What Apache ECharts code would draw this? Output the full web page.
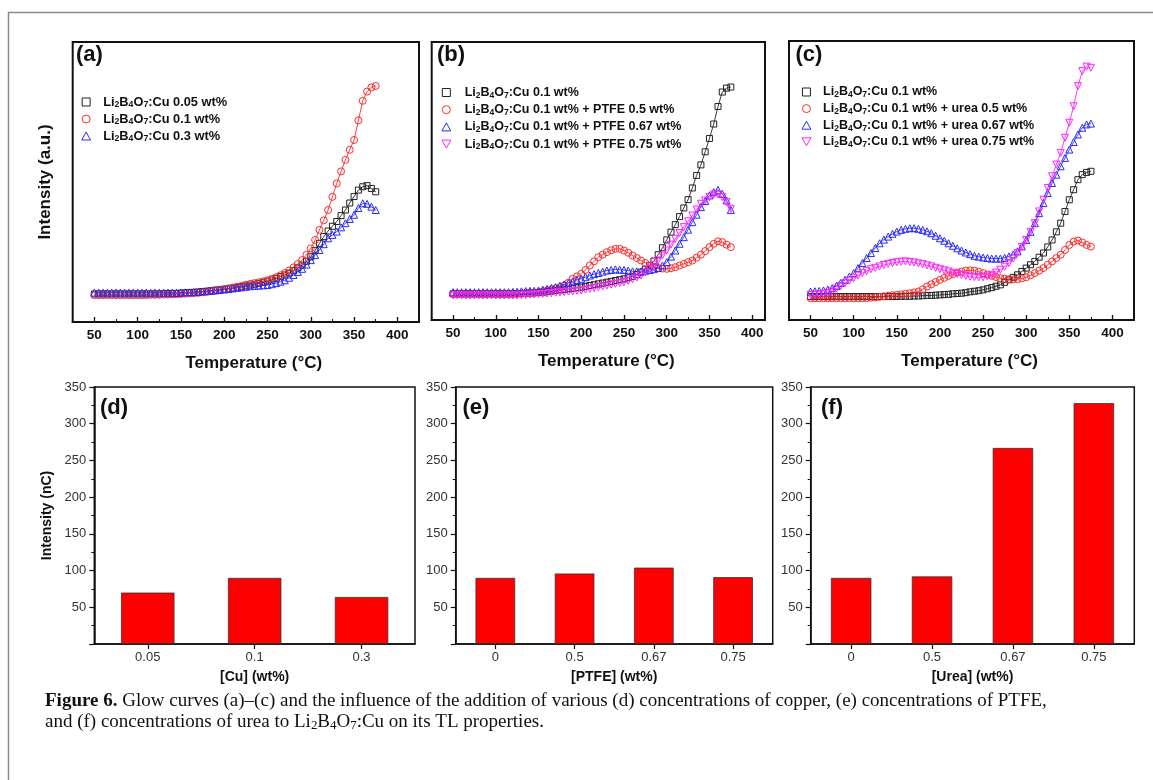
<!DOCTYPE html>
<html>
<head>
<meta charset="utf-8">
<script src="https://cdn.jsdelivr.net/npm/echarts@6/dist/echarts.min.js"></script>
<style>
  html, body { margin: 0; padding: 0; background: #fff; }
  #chart { width: 1153px; height: 780px; }
</style>
</head>
<body>
<div id="chart"></div>
<script>
// Heating temperature (°C) for every glow-curve reading
const temps = [50,55,60,65,70,75,80,85,90,95,100,105,110,115,120,125,130,135,140,145,
  150,155,160,165,170,175,180,185,190,195,200,205,210,215,220,225,230,235,240,245,
  250,255,260,265,270,275,280,285,290,295,300,305,310,315,320,325,330,335,340,345,
  350,355,360,365,370,375];

// (a) Cu concentration glow curves, TL intensity (a.u.)
const cu005 = [10.0,10.0,10.0,10.0,10.0,10.0,10.0,10.0,10.0,10.0,10.0,10.0,10.0,10.0,10.0,10.0,10.1,10.1,10.2,10.2,
  10.3,10.4,10.5,10.6,10.7,10.9,11.0,11.2,11.4,11.5,11.7,11.9,12.1,12.4,12.6,12.9,13.2,13.5,13.8,14.2,
  14.6,15.0,15.6,16.2,16.8,17.5,18.3,19.3,20.3,21.7,23.3,25.5,28.1,30.5,32.5,34.2,35.9,38.0,40.0,42.5,
  44.8,47.1,48.3,48.7,47.7,46.5];
const cu01 = [9.6,9.6,9.6,9.6,9.6,9.6,9.6,9.6,9.6,9.6,9.6,9.6,9.6,9.7,9.7,9.7,9.8,9.8,9.9,9.9,
  10.0,10.1,10.2,10.3,10.4,10.6,10.8,11.0,11.2,11.4,11.7,12.0,12.3,12.6,12.9,13.3,13.6,13.9,14.2,14.5,
  14.9,15.4,16.0,16.7,17.5,18.4,19.5,20.7,22.1,24.0,26.3,29.3,32.9,36.3,40.0,44.7,49.5,53.8,57.9,61.5,
  65.0,72.0,79.0,82.3,83.8,84.3];
const cu03 = [10.5,10.5,10.5,10.5,10.5,10.5,10.5,10.5,10.5,10.5,10.5,10.5,10.5,10.5,10.5,10.5,10.5,10.5,10.5,10.5,
  10.5,10.6,10.6,10.7,10.8,10.9,11.0,11.2,11.3,11.5,11.6,11.8,12.0,12.2,12.4,12.6,12.8,12.9,13.0,13.1,
  13.2,13.5,13.9,14.4,14.9,15.8,16.8,17.9,19.0,20.5,22.1,23.9,25.7,27.8,29.9,31.1,32.3,33.8,35.3,36.8,
  38.3,40.7,42.4,42.2,41.2,40.0];

// (b) PTFE additions to Li2B4O7:Cu 0.1 wt%
const ptfeBase = [9.4,9.4,9.4,9.4,9.4,9.4,9.4,9.4,9.4,9.4,9.4,9.4,9.4,9.4,9.4,9.5,9.5,9.6,9.7,9.8,
  9.9,10.0,10.2,10.4,10.6,10.8,11.0,11.2,11.4,11.6,11.8,12.1,12.4,12.7,13.0,13.3,13.6,13.9,14.2,14.5,
  14.8,15.2,15.7,16.3,17.2,18.3,19.6,21.2,23.5,26.0,28.8,31.6,34.3,37.2,40.3,43.3,47.5,52.0,55.8,60.5,
  65.3,70.5,76.8,82.0,83.4,83.8];
const ptfe05 = [9.4,9.4,9.4,9.4,9.4,9.4,9.4,9.4,9.4,9.4,9.4,9.4,9.4,9.4,9.4,9.4,9.5,9.6,9.7,9.8,
  10.0,10.3,10.6,11.0,11.4,11.8,12.4,13.4,14.8,15.7,16.6,18.0,19.6,21.1,22.6,23.5,24.4,25.1,25.6,25.6,
  25.0,24.2,23.2,22.3,21.4,20.5,19.6,19.1,18.7,18.5,18.4,18.6,19.0,19.6,20.2,20.8,21.4,22.4,23.5,24.8,
  26.2,27.4,28.3,28.0,27.1,26.2];
const ptfe067 = [10.0,10.0,10.0,10.0,10.0,10.0,10.0,10.0,10.0,10.0,10.0,10.0,10.0,10.0,10.1,10.2,10.3,10.4,10.5,10.5,
  10.6,10.9,11.2,11.5,11.8,12.3,12.8,13.3,13.9,14.4,14.8,15.4,16.0,16.5,16.9,17.4,17.8,18.0,18.2,18.1,
  18.0,17.8,17.5,17.5,17.5,17.7,18.0,18.3,18.7,19.6,20.8,22.8,25.0,27.4,29.8,32.5,35.2,37.9,40.6,42.8,
  44.8,46.0,46.8,45.4,43.0,39.6];
const ptfe075 = [8.8,8.8,8.8,8.8,8.8,8.8,8.8,8.8,8.8,8.8,8.8,8.8,8.8,8.8,8.8,8.8,8.9,9.0,9.1,9.2,
  9.3,9.4,9.5,9.6,9.8,9.9,10.0,10.2,10.3,10.5,10.6,10.9,11.2,11.5,11.8,12.1,12.4,12.7,13.0,13.3,
  13.6,14.1,14.7,15.3,16.0,17.1,18.4,19.9,21.4,23.2,25.0,27.1,29.2,31.3,33.4,35.5,37.6,39.7,41.8,43.0,
  44.2,45.1,45.1,44.2,42.4,40.0];

// (c) urea additions to Li2B4O7:Cu 0.1 wt%
const ureaBase = [8.4,8.4,8.4,8.4,8.4,8.4,8.4,8.4,8.4,8.4,8.4,8.4,8.4,8.4,8.4,8.4,8.4,8.4,8.4,8.4,
  8.4,8.5,8.5,8.5,8.6,8.6,8.7,8.8,8.8,8.9,9.0,9.1,9.2,9.4,9.5,9.6,9.8,10.1,10.3,10.5,
  10.8,11.2,11.6,12.1,12.6,13.5,14.4,15.3,16.2,17.4,18.6,19.8,21.0,22.5,24.0,26.2,28.7,31.6,34.7,38.9,
  43.1,46.7,50.3,52.1,52.9,53.3];
const urea05 = [7.8,7.8,7.8,7.8,7.8,7.8,7.8,7.8,7.8,7.8,7.8,7.8,7.8,7.8,8.0,8.1,8.3,8.5,8.7,8.9,
  9.0,9.2,9.4,9.6,9.9,10.2,11.0,12.0,12.8,13.6,14.4,15.1,15.8,16.4,17.0,17.4,17.7,17.8,17.7,17.3,
  16.8,16.3,15.8,15.4,15.0,14.8,14.6,14.6,14.6,14.9,15.3,16.0,16.8,17.7,18.6,19.8,21.0,22.2,23.4,25.1,
  26.9,28.1,28.5,27.8,26.9,26.3];
const urea067 = [10.2,10.3,10.4,10.6,10.9,11.4,12.2,13.3,14.4,15.6,16.8,18.6,20.4,22.2,24.0,25.8,27.5,28.8,29.9,30.9,
  31.7,32.3,32.7,32.9,32.9,32.7,32.3,31.8,31.1,30.2,29.3,28.4,27.5,26.6,25.7,24.9,24.2,23.6,23.0,22.7,
  22.4,22.2,22.0,22.0,22.0,22.3,22.8,23.5,24.6,26.4,28.7,31.6,34.7,38.3,41.9,45.5,49.1,52.1,55.1,58.1,
  61.1,63.8,66.5,68.9,70.1,70.4];
const urea075 = [9.0,9.1,9.2,9.4,9.6,10.2,11.2,12.2,13.2,14.1,15.0,15.9,16.8,17.5,18.2,18.7,19.2,19.7,20.1,20.4,
  20.7,20.9,21.0,20.8,20.6,20.3,20.0,19.6,19.2,18.7,18.2,17.8,17.4,16.9,16.5,16.1,15.8,15.5,15.3,15.3,
  15.3,15.6,16.2,17.0,18.0,19.1,20.4,22.0,24.0,26.2,28.7,31.6,34.7,38.9,43.1,47.3,51.5,55.7,59.9,65.3,
  70.7,76.6,83.8,89.2,90.8,90.4];

// Integrated TL intensity (nC)
const cuLevels = ['0.05', '0.1', '0.3'];
const cuCharge = [70, 90, 64];
const ptfeLevels = ['0', '0.5', '0.67', '0.75'];
const ptfeCharge = [90, 96, 104, 91];
const ureaLevels = ['0', '0.5', '0.67', '0.75'];
const ureaCharge = [90, 92, 267, 328];

// Axis tick values
const majorTicks = [50, 100, 150, 200, 250, 300, 350, 400];
const minorTicks = [75, 125, 175, 225, 275, 325, 375];

const SANS = '"Liberation Sans", Arial, sans-serif';
const SERIF = '"Liberation Serif", "Times New Roman", serif';
const BLACK = '#222222', RED = '#ff2a2a', BLUE = '#2a2aff', MAGENTA = '#ff22ff';
const SQUARE = 'path://M0,0L10,0L10,10L0,10Z';
const UP_TRI = 'path://M5,0L10,9L0,9Z';
const DOWN_TRI = 'path://M0,0L10,0L5,9Z';

const marks = {
  square: { symbol: 'rect', size: 6, icon: SQUARE },
  circle: { symbol: 'circle', size: 7, icon: 'circle' },
  up: { symbol: 'triangle', size: 7, icon: UP_TRI },
  down: { symbol: DOWN_TRI, size: 7, icon: DOWN_TRI }
};

function curve(name, values, color, mark, xIdx, yIdx) {
  return {
    type: 'line', name: name, xAxisIndex: xIdx, yAxisIndex: yIdx,
    data: values.map((v, i) => [temps[i], v]),
    symbol: marks[mark].symbol, symbolSize: marks[mark].size, showAllSymbol: true,
    itemStyle: { color: 'rgba(0,0,0,0)', borderColor: color, borderWidth: 1 },
    lineStyle: { color: color, width: 0.9 },
    emphasis: { disabled: true }, z: 3
  };
}

function legendItem(name, color, mark) {
  return { name: name, icon: marks[mark].icon,
    itemStyle: { color: 'rgba(0,0,0,0)', borderColor: color, borderWidth: 1 } };
}

function makeRich(size) {
  return {
    t: { fontFamily: SANS, fontWeight: 'bold', fontSize: size, color: '#111', lineHeight: 15 },
    s: { fontFamily: SANS, fontWeight: 'bold', fontSize: size * 0.68, color: '#111', lineHeight: 9, verticalAlign: 'bottom' }
  };
}
function chem(name) {
  return name.replace('Li2B4O7', '{t|Li}{s|2}{t|B}{s|4}{t|O}{s|7}{t|') + '}';
}

function legendBox(items, left, top, width, gap, size) {
  return {
    orient: 'vertical', left: left, top: top, padding: 0,
    itemWidth: width, itemHeight: 8, itemGap: gap, symbolKeepAspect: true,
    selectedMode: false, data: items,
    formatter: chem,
    textStyle: { fontFamily: SANS, fontWeight: 'bold', fontSize: size, color: '#111', lineHeight: 15, rich: makeRich(size) }
  };
}

function tempAxes(grid, max) {
  const common = { type: 'value', gridIndex: grid, min: 25, max: max, position: 'bottom',
    splitLine: { show: false } };
  return [
    Object.assign({}, common, {
      axisLine: { show: true, lineStyle: { color: '#111', width: 2 } },
      axisTick: { show: true, inside: true, length: 5, customValues: majorTicks, lineStyle: { color: '#111', width: 1.3 } },
      axisLabel: { show: true, customValues: majorTicks, margin: 6, fontFamily: SANS, fontWeight: 'bold', fontSize: 13.5, color: '#111' },
      name: 'Temperature (°C)', nameLocation: 'middle', nameGap: 33,
      nameTextStyle: { fontFamily: SANS, fontWeight: 'bold', fontSize: 17, color: '#111', padding: [0, 0, 0, 16] }
    }),
    Object.assign({}, common, {
      axisLine: { show: false },
      axisTick: { show: true, inside: true, length: 3, customValues: minorTicks, lineStyle: { color: '#111', width: 1 } },
      axisLabel: { show: false }
    })
  ];
}

function intensityAxis(grid, name) {
  return {
    type: 'value', gridIndex: grid, min: 0, max: 100,
    axisLine: { show: false }, axisTick: { show: false }, axisLabel: { show: false }, splitLine: { show: false },
    name: name, nameLocation: 'middle', nameGap: 19, nameRotate: 90,
    nameTextStyle: { fontFamily: SANS, fontWeight: 'bold', fontSize: 17, color: '#111' }
  };
}

function levelAxis(grid, levels, name) {
  return {
    type: 'category', gridIndex: grid, data: levels, position: 'bottom',
    axisLine: { show: true, lineStyle: { color: '#111', width: 1.5 } },
    axisTick: { show: true, alignWithLabel: true, inside: false, length: 5, lineStyle: { color: '#111', width: 1.2 } },
    axisLabel: { margin: 7, fontFamily: SANS, fontSize: 13, color: '#333' },
    name: name, nameLocation: 'middle', nameGap: 26,
    nameTextStyle: { fontFamily: SANS, fontWeight: 'bold', fontSize: 14, color: '#111' },
    splitLine: { show: false }
  };
}

function chargeAxis(grid, name) {
  return {
    type: 'value', gridIndex: grid, min: 0, max: 350, interval: 50,
    axisLine: { show: true, lineStyle: { color: '#111', width: 1.5 } },
    axisTick: { show: true, inside: false, length: 5, lineStyle: { color: '#111', width: 1.2 } },
    minorTick: { show: true, splitNumber: 2, length: 3, lineStyle: { color: '#111', width: 1 } },
    axisLabel: { margin: 8, fontFamily: SANS, fontSize: 13, color: '#333',
      formatter: v => (v === 0 ? '' : String(v)) },
    splitLine: { show: false }, minorSplitLine: { show: false },
    name: name, nameLocation: 'middle', nameGap: 40, nameRotate: 90,
    nameTextStyle: { fontFamily: SANS, fontWeight: 'bold', fontSize: 14, color: '#111' }
  };
}

function bars(values, xIdx, yIdx) {
  return {
    type: 'bar', xAxisIndex: xIdx, yAxisIndex: yIdx, data: values, barWidth: '50%',
    itemStyle: { color: '#ff0000', borderColor: '#333', borderWidth: 0.8 },
    emphasis: { disabled: true }
  };
}

function panelTag(text, x, y) {
  return { type: 'text', x: x, y: y, z: 10,
    style: { text: text, fontFamily: SANS, fontWeight: 'bold', fontSize: 22, fill: '#111', verticalAlign: 'middle' } };
}

const gridBase = { show: true, containLabel: false, outerBoundsMode: 'none', backgroundColor: 'transparent' };
const grids = [
  Object.assign({ left: 72.7, top: 42, width: 346.3, height: 280, borderColor: '#111', borderWidth: 2 }, gridBase),
  Object.assign({ left: 431.7, top: 42, width: 333.3, height: 278, borderColor: '#111', borderWidth: 2 }, gridBase),
  Object.assign({ left: 789, top: 41, width: 345, height: 279, borderColor: '#111', borderWidth: 2 }, gridBase),
  Object.assign({ left: 94.3, top: 387, width: 320.7, height: 257, borderColor: '#111', borderWidth: 1.5 }, gridBase),
  Object.assign({ left: 455.7, top: 387, width: 317, height: 257, borderColor: '#111', borderWidth: 1.5 }, gridBase),
  Object.assign({ left: 810.7, top: 387, width: 323.6, height: 257, borderColor: '#111', borderWidth: 1.5 }, gridBase)
];

const xAxes = [].concat(
  tempAxes(0, 425), tempAxes(1, 415), tempAxes(2, 425),
  [levelAxis(3, cuLevels, '[Cu] (wt%)'), levelAxis(4, ptfeLevels, '[PTFE] (wt%)'), levelAxis(5, ureaLevels, '[Urea] (wt%)')]
);
const yAxes = [
  intensityAxis(0, 'Intensity (a.u.)'), intensityAxis(1, ''), intensityAxis(2, ''),
  chargeAxis(3, 'Intensity (nC)'), chargeAxis(4, ''), chargeAxis(5, '')
];

const N = {
  a1: 'Li2B4O7:Cu 0.05 wt%', a2: 'Li2B4O7:Cu 0.1 wt%', a3: 'Li2B4O7:Cu 0.3 wt%',
  b0: 'Li2B4O7:Cu 0.1 wt%', b1: 'Li2B4O7:Cu 0.1 wt% + PTFE 0.5 wt%',
  b2: 'Li2B4O7:Cu 0.1 wt% + PTFE 0.67 wt%', b3: 'Li2B4O7:Cu 0.1 wt% + PTFE 0.75 wt%',
  c1: 'Li2B4O7:Cu 0.1 wt% + urea 0.5 wt%', c2: 'Li2B4O7:Cu 0.1 wt% + urea 0.67 wt%',
  c3: 'Li2B4O7:Cu 0.1 wt% + urea 0.75 wt%'
};

const series = [
  curve(N.a1, cu005, BLACK, 'square', 0, 0),
  curve(N.a2, cu01, RED, 'circle', 0, 0),
  curve(N.a3, cu03, BLUE, 'up', 0, 0),
  curve(N.b0, ptfeBase, BLACK, 'square', 2, 1),
  curve(N.b1, ptfe05, RED, 'circle', 2, 1),
  curve(N.b2, ptfe067, BLUE, 'up', 2, 1),
  curve(N.b3, ptfe075, MAGENTA, 'down', 2, 1),
  curve(N.b0, ureaBase, BLACK, 'square', 4, 2),
  curve(N.c1, urea05, RED, 'circle', 4, 2),
  curve(N.c2, urea067, BLUE, 'up', 4, 2),
  curve(N.c3, urea075, MAGENTA, 'down', 4, 2),
  bars(cuCharge, 6, 3),
  bars(ptfeCharge, 7, 4),
  bars(ureaCharge, 8, 5)
];

const legends = [
  legendBox([legendItem(N.a1, BLACK, 'square'), legendItem(N.a2, RED, 'circle'), legendItem(N.a3, BLUE, 'up')],
    81.2, 94.5, 24, 2, 12.8),
  legendBox([legendItem(N.b0, BLACK, 'square'), legendItem(N.b1, RED, 'circle'),
    legendItem(N.b2, BLUE, 'up'), legendItem(N.b3, MAGENTA, 'down')], 441.4, 85, 26.6, 2.2, 12.5),
  legendBox([legendItem(N.b0, BLACK, 'square'), legendItem(N.c1, RED, 'circle'),
    legendItem(N.c2, BLUE, 'up'), legendItem(N.c3, MAGENTA, 'down')], 801.5, 84.5, 23.2, 1.6, 12.5)
];

const CAP = 19;
const capRich = {
  b: { fontFamily: SERIF, fontWeight: 'bold', fontSize: CAP, fill: '#111' },
  n: { fontFamily: SERIF, fontSize: CAP, fill: '#111' },
  s: { fontFamily: SERIF, fontSize: CAP * 0.68, fill: '#111', verticalAlign: 'bottom', lineHeight: 12 }
};

const graphics = [
  { type: 'polyline', z: 0, shape: { points: [[8.5, 780], [8.5, 12.5], [1153, 12.5]] },
    style: { stroke: '#8a8a8a', lineWidth: 1.5, fill: null } },
  panelTag('(a)', 76, 55), panelTag('(b)', 437, 55), panelTag('(c)', 795.5, 55),
  panelTag('(d)', 100, 408), panelTag('(e)', 462.5, 408), panelTag('(f)', 821, 408),
  { type: 'text', x: 45, y: 701, z: 10,
    style: { text: '{b|Figure 6.}{n| Glow curves (a)–(c) and the influence of the addition of various (d) concentrations of copper, (e) concentrations of PTFE,}',
      rich: capRich, fontFamily: SERIF, fontSize: CAP, fill: '#111', verticalAlign: 'middle', lineHeight: 21 } },
  { type: 'text', x: 45, y: 722, z: 10,
    style: { text: '{n|and (f) concentrations of urea to Li}{s|2}{n|B}{s|4}{n|O}{s|7}{n|:Cu on its TL properties.}',
      rich: capRich, fontFamily: SERIF, fontSize: CAP, fill: '#111', verticalAlign: 'middle', lineHeight: 21 } }
];

const chart = echarts.init(document.getElementById('chart'), null, { renderer: 'canvas' });
chart.setOption({
  backgroundColor: '#ffffff',
  animation: false,
  tooltip: { show: false },
  grid: grids,
  xAxis: xAxes,
  yAxis: yAxes,
  legend: legends,
  series: series,
  graphic: graphics
});
</script>
</body>
</html>
